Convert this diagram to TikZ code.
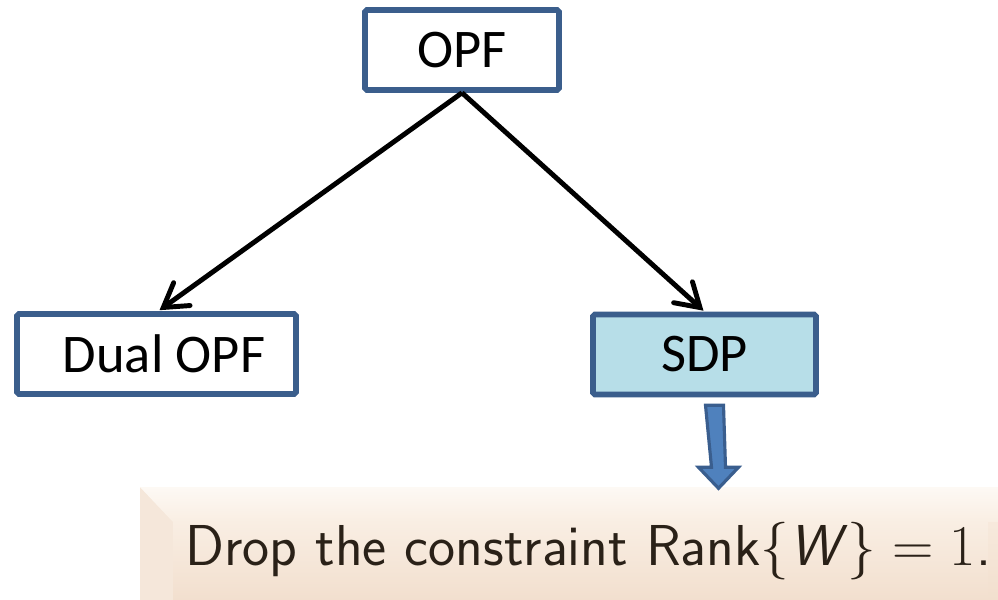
\documentclass[tikz,border=0pt]{standalone}
\usepackage{fontspec}
\newfontfamily\boxfont{Carlito}
\usetikzlibrary{arrows.meta,calc}

\definecolor{boxborder}{HTML}{3B5E8C}
\definecolor{sdpfill}{HTML}{B7DEE8}
\definecolor{blockfill}{HTML}{4F81BD}
\definecolor{blockline}{HTML}{3A5E8E}
\definecolor{notetop}{HTML}{FDF9F4}
\definecolor{noteface}{HTML}{F9EEE3}
\definecolor{notebottom}{HTML}{F2DFCE}
\definecolor{noteside}{HTML}{F5E7DA}
\definecolor{notetext}{HTML}{2A2118}

\begin{document}
\begin{tikzpicture}[
    x=0.02cm,
    y=-0.02cm,
    problem/.style={
        rectangle,
        draw=boxborder,
        line width=3.2pt,
        rounded corners=1pt,
        fill=white,
        minimum height=1.6cm,
        inner sep=2pt,
        font=\boxfont\fontsize{31}{36}\selectfont
    },
    relaxed/.style={
        problem,
        fill=sdpfill
    },
    derive/.style={
        -{Straight Barb[length=13pt,width=16pt,line cap=round]},
        line width=2.8pt,
        black
    },
    block arrow/.style={
        draw=blockline,
        fill=blockfill,
        line width=1.8pt,
        line join=miter
    },
    note/.style={
        inner sep=0pt,
        text=notetext,
        xscale=1.89,
        yscale=1.9,
        transform shape,
        font=\sffamily\LARGE
    }
]
\useasboundingbox (0,0) rectangle (998,599);
\clip (0,0) rectangle (998,599);

% note background with bevel
\shade[top color=noteface, bottom color=notebottom]
    (140,487) rectangle (1010,600);
\fill[noteside] (140,487) -- (173,522) -- (173,600) -- (140,600) -- cycle;
\shade[top color=notetop, bottom color=noteface]
    (140,487) -- (1010,487) -- (1010,522) -- (173,522) -- cycle;
\shade[top color=noteface, bottom color=notebottom]
    (173,522) rectangle (988,600);

\node[problem, minimum width=3.88cm] (opf) at (462,50) {OPF};

\node[problem, minimum width=5.58cm] (dual) at (156.5,354) {\hspace*{0.3cm}Dual OPF};

\node[relaxed, minimum width=4.46cm] (sdp) at (704.5,354.5) {SDP};

\node[note, anchor=base west] (drop) at (185,565)
    {Drop the constraint Rank$\{$\textsl{W}$\}=1$.};

\draw[derive] (opf.south) -- ($(dual.north)+(3,-1)$);
\draw[derive] (opf.south) -- ($(sdp.north)+(-1,-1)$);

% block arrow towards the note
\path (sdp.south) ++(10,8) coordinate (shaft);
\draw[block arrow]
    ($(shaft)+(-9,0)$) -- ($(shaft)+(9,0)$) -- ($(shaft)+(11,62)$)
    -- ($(shaft)+(24,62)$) -- ($(shaft)+(4,83)$) -- ($(shaft)+(-16,62)$)
    -- ($(shaft)+(-3,62)$) -- cycle;

\end{tikzpicture}
\end{document}
